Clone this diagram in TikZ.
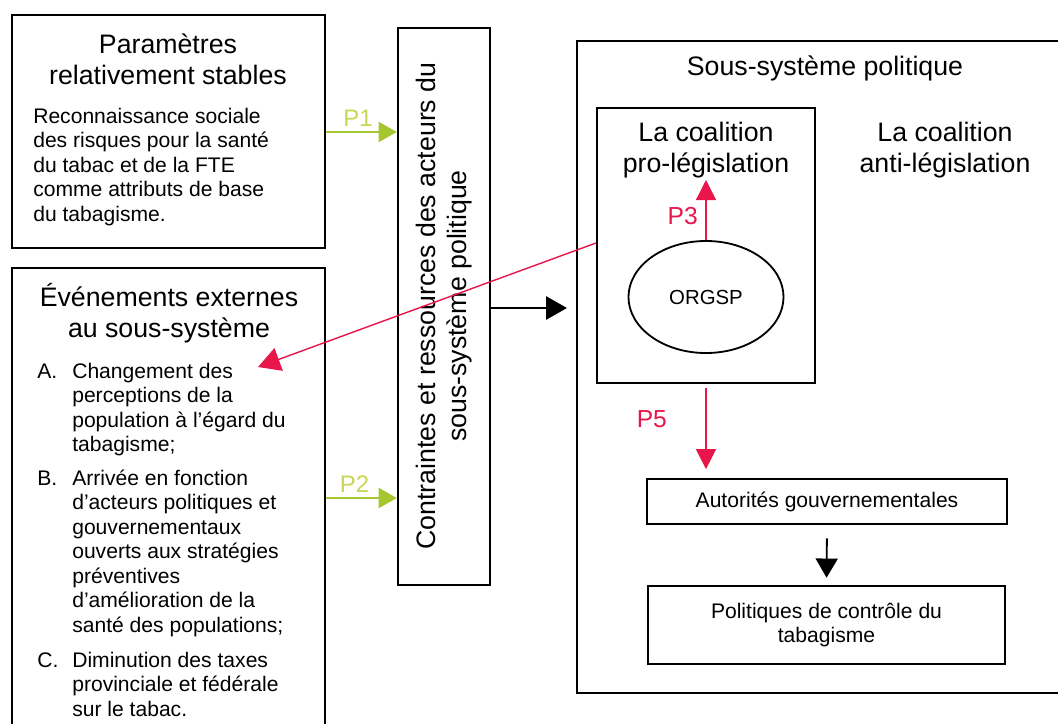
\documentclass[tikz,border=0pt]{standalone}
\usepackage{fontspec}
\setmainfont{Liberation Sans}
\usetikzlibrary{arrows.meta,fit,shapes.geometric}
\definecolor{vert}{RGB}{166,198,48}
\definecolor{vertclair}{RGB}{200,214,84}
\definecolor{rouge}{RGB}{232,22,74}
\tikzset{
  cadre/.style={draw, line width=1.8pt, inner sep=0pt},
  petitcadre/.style={draw, line width=1.5pt, inner sep=0pt},
  titre/.style={font=\fontsize{19}{22}\selectfont, align=center},
  corps/.style={font=\fontsize{15}{17.4}\selectfont, align=left, inner sep=0pt},
  pvert/.style={draw=vert, line width=1.3pt, -{Triangle[length=0.45cm, width=0.5cm]}},
  prouge/.style={draw=rouge, line width=1pt, -{Triangle[length=0.5cm, width=0.5cm]}},
  pnoir/.style={draw, line width=1.3pt, -{Triangle[length=0.52cm, width=0.58cm]}},
  etiqvert/.style={text=vertclair, font=\fontsize{17}{20}\selectfont},
  etiqrouge/.style={text=rouge, font=\fontsize{17.5}{20}\selectfont}
}
\begin{document}
\begin{tikzpicture}[x=0.025cm, y=-0.025cm]
  \useasboundingbox (0,0) rectangle (1058,723);
  % boites de gauche
  \node[cadre, fit={(12,15) (325,248)}] (param) {};
  \node[titre] (paramtitre) at (168,59) {Paramètres\\relativement stables};
  \node[corps, anchor=west] (paramtexte) at (33,167) {Reconnaissance sociale\\des risques pour la santé\\du tabac et de la FTE\\comme attributs de base\\du tabagisme.};
  \node[cadre, fit={(12,268) (325,740)}] (evenements) {};
  \node[titre] (evtitre) at (169,313) {Événements externes\\au sous-système};
  % la ligne de base d'un texte sur plusieurs lignes est la derniere
  \node[corps, anchor=base west] (la) at (37,378) {A.};
  \node[corps, anchor=base west] (itema) at (72,451.5) {Changement des\\perceptions de la\\population à l'égard du\\tabagisme;};
  \node[corps, anchor=base west] (lb) at (37,485) {B.};
  \node[corps, anchor=base west] (itemb) at (72,632) {Arrivée en fonction\\d'acteurs politiques et\\gouvernementaux\\ouverts aux stratégies\\préventives\\d'amélioration de la\\santé des populations;};
  \node[corps, anchor=base west] (lc) at (37,667) {C.};
  \node[corps, anchor=base west] (itemc) at (72,716) {Diminution des taxes\\provinciale et fédérale\\sur le tabac.};
  % contraintes
  \node[cadre, fit={(398,28) (490,585)}] (contr) {};
  \node[titre, rotate=90] (contrtexte) at (444,306) {Contraintes et ressources des acteurs du\\sous-système politique};
  % sous-systeme
  \node[cadre, fit={(577,41) (1080,693)}] (systeme) {};
  \node[titre] (systitre) at (825,68) {Sous-système politique};
  \node[petitcadre, fit={(597,108) (815,383)}] (pro) {};
  \node[titre] (protitre) at (706,150) {La coalition\\pro-législation};
  \node[titre] (antititre) at (945,150) {La coalition\\anti-législation};
  \node[draw, ellipse, line width=1.3pt, minimum width=3.875cm, minimum height=2.8cm,
    font=\fontsize{14.5}{17}\selectfont] (orgsp) at (706,297) {ORGSP};
  \node[petitcadre, minimum width=9cm, minimum height=1.125cm,
    font=\fontsize{15}{17.4}\selectfont] (autorites) at (827,501.5) {Autorités gouvernementales};
  \node[petitcadre, minimum width=8.93cm, minimum height=1.95cm, align=center,
    font=\fontsize{15}{17.4}\selectfont] (politiques) at (826.5,625) {Politiques de contrôle du\\tabagisme};
  \coordinate (cible) at (258,367);
  % fleches
  \draw[pvert] (param.east |- 0,132) -- (contr.west |- 0,132)
    node[etiqvert, pos=0.45, above] (p1) {P1};
  \draw[pvert] (evenements.east |- 0,498) -- (contr.west |- 0,498)
    node[etiqvert, pos=0.4, above] (p2) {P2};
  \draw[pnoir, shorten >=0.22cm] (contr.east |- 0,308) -- (systeme.west |- 0,308);
  \draw[prouge] (orgsp.north) -- (orgsp.north |- 0,180)
    node[etiqrouge, pos=0.4, left=2pt] (p3) {P3};
  \draw[prouge, shorten <=0.1cm, shorten >=0.22cm] (pro.south -| orgsp) -- (autorites.north -| orgsp)
    node[etiqrouge, pos=0.37, left=24pt] (p5) {P5};
  \draw[pnoir, shorten <=0.33cm, shorten >=0.18cm, -{Triangle[length=0.48cm, width=0.55cm]}] (autorites.south) -- (politiques.north);
  \draw[prouge, -{Triangle[length=0.55cm, width=0.6cm]}] (pro.west |- 0,243) -- (cible);
\end{tikzpicture}
\end{document}
